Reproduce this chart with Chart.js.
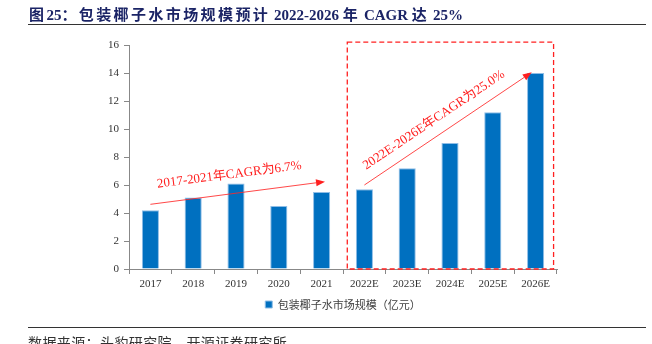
<!DOCTYPE html>
<html lang="zh">
<head>
  <meta charset="UTF-8">
  <title>包装椰子水市场规模</title>
  <script src="https://cdn.jsdelivr.net/npm/chart.js"></script>
  <style>
    body { margin: 0; background: #fff; }
    .page { position: relative; width: 652px; height: 344px; overflow: hidden; }
    .title {
      position: absolute; left: 29px; top: 3px;
      font-family: "Liberation Serif", "Noto Sans CJK SC", serif;
      font-weight: bold; font-size: 15px; color: #1b2466;
      white-space: nowrap;
    }
    .title .cjk { letter-spacing: 2.4px; }
    .rule { position: absolute; left: 28px; right: 6px; height: 0; border-top: 1.5px solid #333; }
    .source {
      position: absolute; left: 28px; top: 332px;
      font-family: "Noto Sans CJK SC", sans-serif; font-size: 14px; color: #333;
      letter-spacing: 0.4px; white-space: nowrap;
    }
    #chart { position: absolute; left: 0; top: 0; }
  </style>
</head>
<body>
  <div class="page">
    <canvas id="chart" width="652" height="344"></canvas>
    <div class="title"><span class="cjk">图</span>25<span class="cjk">：包装椰子水市场规模预计</span> 2022-2026 <span class="cjk">年</span> CAGR <span class="cjk">达</span> 25%</div>
    <div class="rule" style="top:24px"></div>
    <div class="rule" style="top:327px"></div>
    <div class="source">数据来源：头豹研究院、开源证券研究所</div>
  </div>
  <script>
    const years = ['2017', '2018', '2019', '2020', '2021', '2022E', '2023E', '2024E', '2025E', '2026E'];
    const marketSize = [4.2, 5.1, 6.1, 4.5, 5.5, 5.7, 7.2, 9.0, 11.2, 14.0];
    const yTicks = [0, 2, 4, 6, 8, 10, 12, 14, 16];
    const seriesName = '包装椰子水市场规模（亿元）';

    // growth arrows, given in category index / value space
    const cagrNotes = [
      { from: [0, 4.62], to: [4.08, 6.24], text: '2017-2021年CAGR为6.7%', lift: 19, shift: -6 },
      { from: [5, 6.0], to: [8.91, 14.05], text: '2022E-2026E年CAGR为25.0%', lift: 15, shift: -7 }
    ];
    const forecastBox = { fromIndex: 4.6, toIndex: 9.42, top: 16.2 };

    const RED = '#ff2020';
    const SERIF = '"Liberation Serif", "Noto Sans CJK SC", serif';

    const notesPlugin = {
      id: 'notes',
      afterLayout(chart) {
        // centre the legend under the plot area, as in the original
        const lg = chart.legend, area = chart.chartArea;
        if (lg) {
          lg.left = area.left;
          lg.right = area.right;
          lg.width = area.right - area.left;
          lg.adjustHitBoxes && lg.adjustHitBoxes();
        }
      },
      afterDatasetsDraw(chart) {
        const ctx = chart.ctx;
        const xs = chart.scales.x, ys = chart.scales.y;
        ctx.save();
        // dashed forecast box
        const bx0 = xs.getPixelForValue(forecastBox.fromIndex);
        const bx1 = xs.getPixelForValue(forecastBox.toIndex);
        const by0 = ys.getPixelForValue(forecastBox.top);
        const by1 = ys.getPixelForValue(0);
        ctx.strokeStyle = RED;
        ctx.lineWidth = 1.3;
        ctx.setLineDash([5, 3]);
        ctx.strokeRect(bx0, by0, bx1 - bx0, by1 - by0);
        ctx.setLineDash([]);

        cagrNotes.forEach(n => {
          const x0 = xs.getPixelForValue(n.from[0]), y0 = ys.getPixelForValue(n.from[1]);
          const x1 = xs.getPixelForValue(n.to[0]), y1 = ys.getPixelForValue(n.to[1]);
          const ang = Math.atan2(y1 - y0, x1 - x0);
          const head = 9;
          ctx.strokeStyle = 'rgba(255,40,40,0.85)';
          ctx.lineWidth = 1;
          ctx.beginPath();
          ctx.moveTo(x0, y0);
          ctx.lineTo(x1 - head * Math.cos(ang), y1 - head * Math.sin(ang));
          ctx.stroke();
          ctx.fillStyle = RED;
          ctx.beginPath();
          ctx.moveTo(x1, y1);
          ctx.lineTo(x1 - head * Math.cos(ang) + 3.5 * Math.sin(ang), y1 - head * Math.sin(ang) - 3.5 * Math.cos(ang));
          ctx.lineTo(x1 - head * Math.cos(ang) - 3.5 * Math.sin(ang), y1 - head * Math.sin(ang) + 3.5 * Math.cos(ang));
          ctx.closePath();
          ctx.fill();
          // label
          const mx = (x0 + x1) / 2 + n.shift * Math.cos(ang) + n.lift * Math.sin(ang);
          const my = (y0 + y1) / 2 + n.shift * Math.sin(ang) - n.lift * Math.cos(ang);
          ctx.translate(mx, my);
          ctx.rotate(ang);
          ctx.font = '13px ' + SERIF;
          ctx.textAlign = 'center';
          ctx.textBaseline = 'middle';
          ctx.fillText(n.text, 0, 0);
          ctx.setTransform(1, 0, 0, 1, 0, 0);
        });
        ctx.restore();
      }
    };

    new Chart(document.getElementById('chart'), {
      type: 'bar',
      data: {
        labels: years,
        datasets: [{
          label: seriesName,
          data: marketSize,
          backgroundColor: '#0070c0',
          borderColor: '#8fbde6',
          borderWidth: 1,
          categoryPercentage: 1,
          barPercentage: 0.4
        }]
      },
      options: {
        responsive: false,
        animation: false,
        layout: { padding: { left: 0, right: 95, top: 45, bottom: 24 } },
        scales: {
          x: {
            offset: true,
            grid: { drawOnChartArea: false, offset: true, tickLength: 5, color: '#888' },
            border: { color: '#888' },
            ticks: { color: '#333', padding: 4, font: { family: SERIF, size: 11 } },
            afterFit(s) { s.height = 24; }
          },
          y: {
            min: 0, max: 16,
            afterBuildTicks(s) { s.ticks = yTicks.map(v => ({ value: v })); },
            grid: { drawOnChartArea: false, tickLength: 5, color: '#888' },
            border: { color: '#888' },
            ticks: { color: '#333', padding: 5, font: { family: SERIF, size: 11 } },
            afterFit(s) { s.width = 129; }
          }
        },
        plugins: {
          legend: {
            position: 'bottom',
            labels: {
              boxWidth: 7, boxHeight: 7, padding: 6, color: '#404040',
              font: { family: '"Noto Sans CJK SC", sans-serif', size: 11 }
            }
          },
          tooltip: { enabled: false }
        }
      },
      plugins: [notesPlugin]
    });
  </script>
</body>
</html>
